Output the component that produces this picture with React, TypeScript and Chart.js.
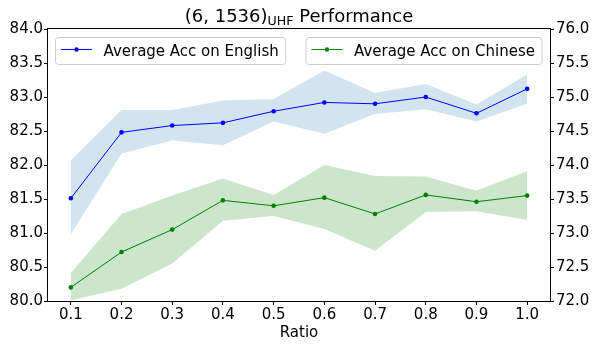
import React, { useEffect, useRef } from "react";
import { Chart, registerables } from "chart.js";

Chart.register(...registerables);

const ratios = [0.1, 0.2, 0.3, 0.4, 0.5, 0.6, 0.7, 0.8, 0.9, 1.0];
const englishMean = [81.51, 82.48, 82.58, 82.62, 82.79, 82.92, 82.9, 83.0, 82.76, 83.12];
const englishUpper = [82.07, 82.81, 82.81, 82.95, 82.97, 83.39, 83.06, 83.19, 82.89, 83.33];
const englishLower = [80.98, 82.17, 82.36, 82.29, 82.64, 82.46, 82.75, 82.82, 82.64, 82.9];
const chineseMean = [72.2, 72.72, 73.05, 73.48, 73.4, 73.52, 73.28, 73.56, 73.46, 73.55];
const chineseUpper = [72.41, 73.28, 73.55, 73.8, 73.56, 74.0, 73.84, 73.83, 73.62, 73.91];
const chineseLower = [72.01, 72.18, 72.55, 73.18, 73.25, 73.06, 72.74, 73.31, 73.32, 73.19];
const xTicks = [0.1, 0.2, 0.3, 0.4, 0.5, 0.6, 0.7, 0.8, 0.9, 1.0];
const leftTicks = [80, 80.5, 81, 81.5, 82, 82.5, 83, 83.5, 84];
const rightTicks = [72, 72.5, 73, 73.5, 74, 74.5, 75, 75.5, 76];
const legendLabels = ["Average Acc on English", "Average Acc on Chinese"];
const titleMain = "(6, 1536)";
const titleSub = "UHF";
const titleRest = " Performance";
const xLabel = "Ratio";

const FONT = '"DejaVu Sans", sans-serif';
const BLUE = "#0000ff";
const GREEN = "#008000";
const BLUE_FILL = "rgba(31,119,180,0.2)";
const GREEN_FILL = "rgba(0,128,0,0.2)";

const pts = (ys: number[]) => ratios.map((x, i) => ({ x, y: ys[i] }));

const decorPlugin = {
  id: "decor",
  afterDraw(chart: any) {
    const { ctx, chartArea } = chart;
    const { left, right, top, bottom } = chartArea;
    ctx.save();
    // frame
    ctx.strokeStyle = "#000";
    ctx.lineWidth = 1;
    ctx.strokeRect(Math.round(left) - 0.5, Math.round(top) - 0.5, Math.round(right - left) + 1, Math.round(bottom - top) + 1);

    // title
    ctx.fillStyle = "#000";
    ctx.textBaseline = "alphabetic";
    ctx.textAlign = "left";
    const mainFont = `18px ${FONT}`;
    const subFont = `12.6px ${FONT}`;
    ctx.font = mainFont;
    const w1 = ctx.measureText(titleMain).width;
    const w3 = ctx.measureText(titleRest).width;
    ctx.font = subFont;
    const w2 = ctx.measureText(titleSub).width;
    const total = w1 + w2 + w3;
    let x = (left + right) / 2 - total / 2;
    const by = 21.5;
    ctx.font = mainFont;
    ctx.fillText(titleMain, x, by);
    x += w1;
    ctx.font = subFont;
    ctx.fillText(titleSub, x, by + 3.5);
    x += w2;
    ctx.font = mainFont;
    ctx.fillText(titleRest, x, by);

    // legends
    const drawLegend = (bx: number, label: string, color: string, alignRight: boolean) => {
      ctx.font = `15px ${FONT}`;
      const tw = ctx.measureText(label).width;
      const boxW = 6 + 31 + 11 + tw + 7;
      const boxX = alignRight ? bx - boxW : bx;
      const boxY = 37.5;
      const boxH = 27;
      const r = 3;
      ctx.beginPath();
      ctx.moveTo(boxX + r, boxY);
      ctx.lineTo(boxX + boxW - r, boxY);
      ctx.arcTo(boxX + boxW, boxY, boxX + boxW, boxY + r, r);
      ctx.lineTo(boxX + boxW, boxY + boxH - r);
      ctx.arcTo(boxX + boxW, boxY + boxH, boxX + boxW - r, boxY + boxH, r);
      ctx.lineTo(boxX + r, boxY + boxH);
      ctx.arcTo(boxX, boxY + boxH, boxX, boxY + boxH - r, r);
      ctx.lineTo(boxX, boxY + r);
      ctx.arcTo(boxX, boxY, boxX + r, boxY, r);
      ctx.closePath();
      ctx.fillStyle = "rgba(255,255,255,0.8)";
      ctx.fill();
      ctx.strokeStyle = "#cccccc";
      ctx.lineWidth = 1;
      ctx.stroke();
      const ly = 49.5;
      const lx0 = boxX + 5.5;
      const lx1 = lx0 + 31;
      ctx.beginPath();
      ctx.moveTo(lx0, ly);
      ctx.lineTo(lx1, ly);
      ctx.strokeStyle = color;
      ctx.lineWidth = 1;
      ctx.stroke();
      ctx.beginPath();
      ctx.arc((lx0 + lx1) / 2, ly, 2.2, 0, Math.PI * 2);
      ctx.fillStyle = color;
      ctx.fill();
      ctx.fillStyle = "#000";
      ctx.textBaseline = "alphabetic";
      ctx.fillText(label, lx1 + 11.5, 56);
    };
    drawLegend(left + 7.5, legendLabels[0], BLUE, false);
    drawLegend(right - 8, legendLabels[1], GREEN, true);
    ctx.restore();
  },
};

export default function App() {
  const ref = useRef<HTMLCanvasElement | null>(null);
  useEffect(() => {
    if (!ref.current) return;
    const tickFont = { family: FONT, size: 15 };
    const band = (ys: number[], axis: string, fill: any, color: string) => ({
      data: pts(ys),
      yAxisID: axis,
      borderWidth: 0,
      borderColor: "rgba(0,0,0,0)",
      backgroundColor: color,
      pointRadius: 0,
      pointHoverRadius: 0,
      fill,
      order: 2,
      tension: 0,
    });
    const line = (ys: number[], axis: string, color: string) => ({
      data: pts(ys),
      yAxisID: axis,
      borderWidth: 1,
      borderColor: color,
      backgroundColor: color,
      pointRadius: 2.3,
      pointBorderWidth: 0,
      pointBackgroundColor: color,
      fill: false,
      order: 0,
      tension: 0,
    });
    const chart = new Chart(ref.current, {
      type: "line",
      data: {
        datasets: [
          band(englishUpper, "y", "+1", BLUE_FILL),
          band(englishLower, "y", false, BLUE_FILL),
          line(englishMean, "y", BLUE),
          band(chineseUpper, "y1", "+1", GREEN_FILL),
          band(chineseLower, "y1", false, GREEN_FILL),
          line(chineseMean, "y1", GREEN),
        ] as any,
      },
      options: {
        animation: false,
        responsive: false,
        maintainAspectRatio: false,
        events: [],
        layout: { padding: { top: 29, left: 0, right: 0, bottom: 0 } },
        plugins: {
          legend: { display: false },
          title: { display: false },
          tooltip: { enabled: false },
        },
        scales: {
          x: {
            type: "linear",
            min: 0.055,
            max: 1.045,
            afterBuildTicks: (s: any) => {
              s.ticks = xTicks.map((v) => ({ value: v }));
            },
            afterFit: (s: any) => {
              s.height = 48;
            },
            ticks: {
              font: tickFont,
              color: "#000",
              padding: 1,
              autoSkip: false,
              maxRotation: 0,
              callback: (v: any) => Number(v).toFixed(1),
            },
            grid: { drawOnChartArea: false, drawTicks: true, tickLength: 4, color: "#000" },
            border: { display: false },
            title: {
              display: true,
              text: xLabel,
              font: { family: FONT, size: 15 },
              color: "#000",
              padding: { top: 0, bottom: 7 },
            },
          },
          y: {
            type: "linear",
            position: "left",
            min: 80,
            max: 84,
            afterBuildTicks: (s: any) => {
              s.ticks = leftTicks.map((v) => ({ value: v }));
            },
            afterFit: (s: any) => {
              s.width = 48;
            },
            ticks: {
              font: tickFont,
              color: "#000",
              padding: 1,
              callback: (v: any) => Number(v).toFixed(1),
            },
            grid: { drawOnChartArea: false, drawTicks: true, tickLength: 4, color: "#000" },
            border: { display: false },
          },
          y1: {
            type: "linear",
            position: "right",
            min: 72,
            max: 76,
            afterBuildTicks: (s: any) => {
              s.ticks = rightTicks.map((v) => ({ value: v }));
            },
            afterFit: (s: any) => {
              s.width = 47;
            },
            ticks: {
              font: tickFont,
              color: "#000",
              padding: 2,
              callback: (v: any) => Number(v).toFixed(1),
            },
            grid: { drawOnChartArea: false, drawTicks: true, tickLength: 4, color: "#000" },
            border: { display: false },
          },
        },
      } as any,
      plugins: [decorPlugin],
    });
    return () => chart.destroy();
  }, []);
  return (
    <div style={{ position: "fixed", left: 0, top: 0, width: 597, height: 349, background: "#fff" }}>
      <canvas ref={ref} width={597} height={349} style={{ display: "block", width: 597, height: 349 }} />
    </div>
  );
}
